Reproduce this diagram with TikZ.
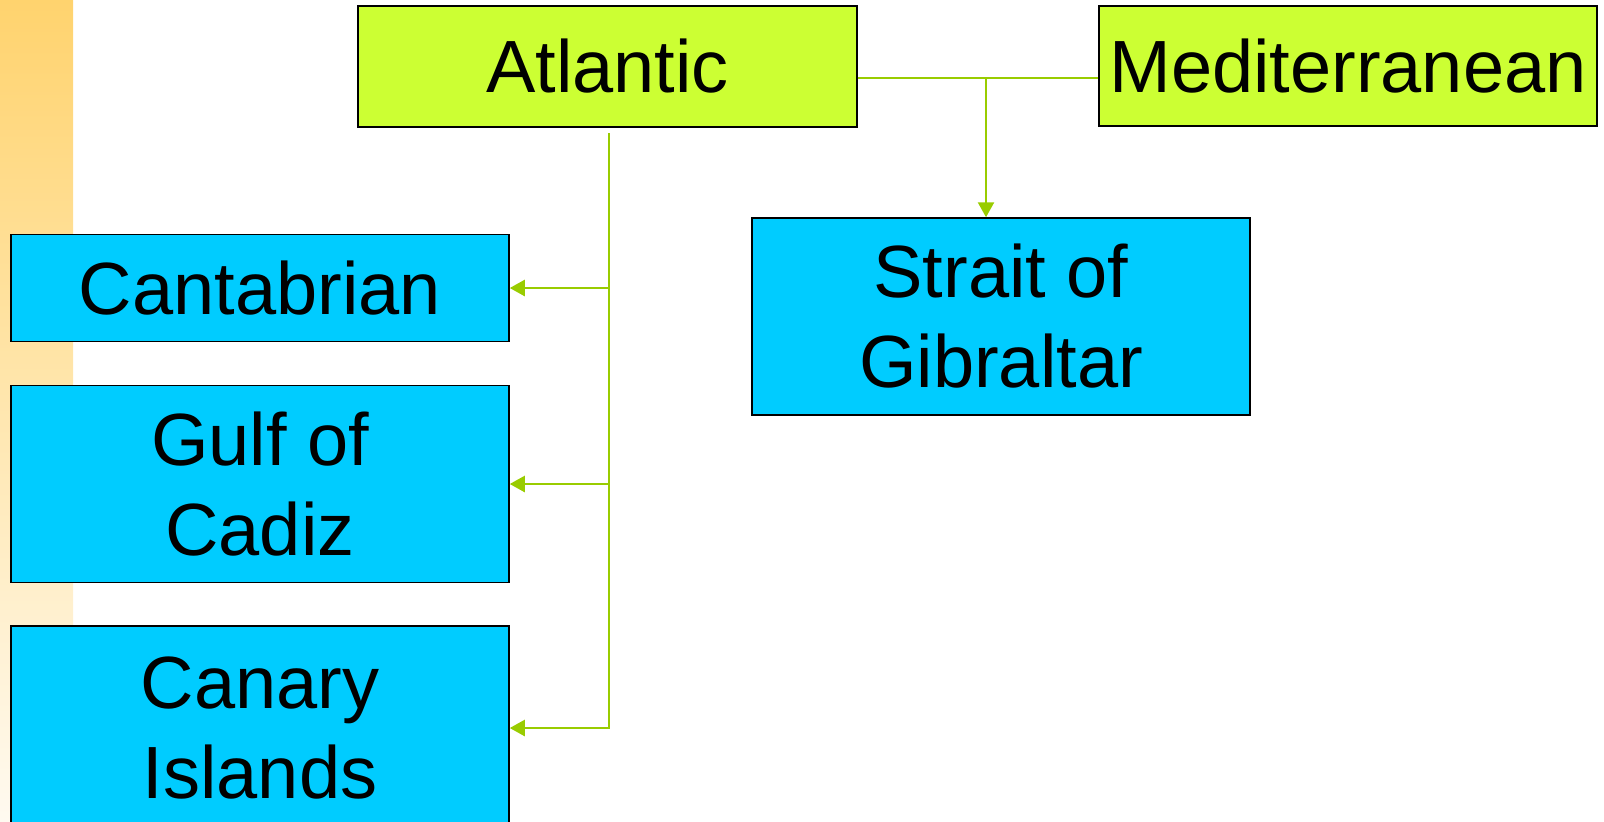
\documentclass[tikz,border=0pt]{standalone}
\usepackage{fontspec}
\setmainfont{Liberation Sans}
\usetikzlibrary{arrows.meta}
\definecolor{lime}{RGB}{204,255,51}
\definecolor{sky}{RGB}{0,204,255}
\definecolor{conncol}{RGB}{153,204,0}
\definecolor{striptop}{RGB}{255,211,110}
\definecolor{stripbot}{RGB}{255,250,240}
\tikzset{
  box/.style={draw=black, line width=0.75pt, inner sep=0pt, align=center,
    font=\fontsize{37}{45}\selectfont},
  seabox/.style={box, fill=lime},
  subbox/.style={box, fill=sky},
  conn/.style={draw=conncol, line width=1.2pt},
  arr/.style={conn, -{Triangle[length=7.5pt,width=8pt]}}
}
\begin{document}
\begin{tikzpicture}[x=0.5pt,y=-0.5pt]
\useasboundingbox (0,0) rectangle (1604,821);
\shade[top color=striptop, bottom color=stripbot] (0,0) rectangle (73,821);
\node[seabox, minimum width=249.5pt, minimum height=60.5pt] (atl) at (607.5,66.5) {Atlantic};
\node[seabox, minimum width=249pt, minimum height=60pt] (med) at (1348,66) {Mediterranean};
\node[subbox, minimum width=249pt, minimum height=98.5pt] (str) at (1001,316.5) {Strait of\\Gibraltar};
\node[subbox, minimum width=249pt, minimum height=53.5pt] (cant) at (260,288) {Cantabrian};
\node[subbox, minimum width=249pt, minimum height=98.5pt] (gulf) at (260,484) {Gulf of\\Cadiz};
\node[subbox, minimum width=249pt, minimum height=102pt] (can) at (260,728) {Canary\\Islands};
\coordinate (j) at (986,78);
\coordinate (v0) at (609,133);
\draw[conn] (atl.east |- j) -- (med.west |- j);
\draw[arr] (j) -- (j |- str.north);
\draw[arr] (v0) -- (v0 |- can.east) -- (can.east);
\draw[arr] (v0 |- cant.east) -- (cant.east);
\draw[arr] (v0 |- gulf.east) -- (gulf.east);
\end{tikzpicture}
\end{document}
